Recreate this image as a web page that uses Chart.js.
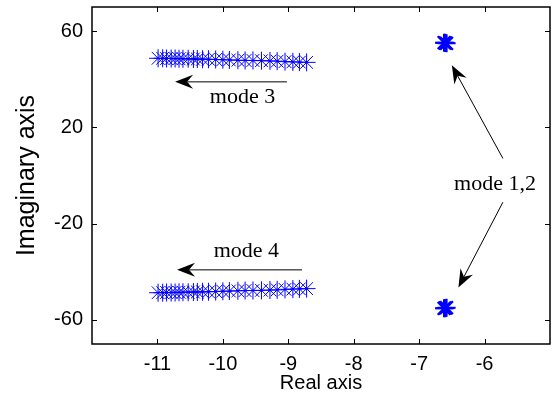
<!DOCTYPE html>
<html>
<head>
<meta charset="utf-8">
<script src="https://cdn.jsdelivr.net/npm/chart.js@4.4.1/dist/chart.umd.min.js"></script>
<style>
  html, body { margin: 0; padding: 0; background: #fff; }
  #wrap { width: 552px; height: 407px; }
</style>
</head>
<body>
<div id="wrap"><canvas id="rootLocus" width="552" height="407"></canvas></div>
<script>
// Eigenvalue trajectories (real / imaginary parts).
var realMode34 = [-10.99, -10.92, -10.86, -10.79, -10.73, -10.67, -10.61, -10.53, -10.45, -10.39,
                  -10.31, -10.22, -10.11, -10.00, -9.90, -9.77, -9.66, -9.54, -9.41, -9.28,
                  -9.17, -9.05, -8.93, -8.83, -8.72];
var imagMode3  = [48.7, 48.7, 48.6, 48.6, 48.6, 48.5, 48.5, 48.5, 48.4, 48.4,
                  48.3, 48.3, 48.2, 48.1, 48.0, 47.9, 47.8, 47.8, 47.7, 47.6,
                  47.5, 47.3, 47.2, 47.1, 47.0];
var imagMode4  = [-48.7, -48.7, -48.6, -48.6, -48.6, -48.5, -48.5, -48.5, -48.4, -48.4,
                  -48.3, -48.3, -48.2, -48.1, -48.0, -47.9, -47.8, -47.8, -47.7, -47.6,
                  -47.5, -47.3, -47.2, -47.1, -47.0];
var realMode12 = [-6.62, -6.60, -6.58, -6.60];
var imagMode1  = [55.2, 55.0, 54.9, 55.1];
var imagMode2  = [-55.2, -55.0, -54.9, -55.1];

var xTicks = [-11, -10, -9, -8, -7, -6];
var yTicks = [60, 20, -20, -60];

// annotations in data units: text labels and arrows (from -> tip)
var labels = [
    { text: 'mode 3', x: -9.70, y: 32.5 },
    { text: 'mode 4', x: -9.64, y: -31.3 },
    { text: 'mode 1,2', x: -5.84, y: -3.8 }
];
var arrows = [
    { x0: -9.02, y0: 38.9, x1: -10.73, y1: 38.9 },
    { x0: -8.79, y0: -39.2, x1: -10.70, y1: -39.2 },
    { x0: -5.72, y0: 7.1, x1: -6.50, y1: 45.8 },
    { x0: -5.72, y0: -11.1, x1: -6.40, y1: -46.5 }
];

function pts(xs, ys) {
    return xs.map(function (x, i) { return { x: x, y: ys[i] }; });
}

var BLUE = '#0000ff';
var SANS = '"Liberation Sans", Arial, sans-serif';

function starSet(data, width) {
    return {
        data: data,
        showLine: false,
        pointStyle: 'star',
        pointRadius: 9,
        pointBorderWidth: width,
        pointBorderColor: BLUE,
        pointBackgroundColor: BLUE
    };
}

// MATLAB-like box with inward ticks plus the text/arrow annotations
var boxPlugin = {
    id: 'matlabBox',
    afterDatasetsDraw: function (chart) {
        var c = chart.ctx, a = chart.chartArea;
        var xs = chart.scales.x, ys = chart.scales.y;
        var t = 5;
        c.save();
        c.strokeStyle = '#000';
        c.lineWidth = 1;
        c.beginPath();
        xTicks.forEach(function (v) {
            var px = Math.round(xs.getPixelForValue(v)) + 0.5;
            c.moveTo(px, a.bottom); c.lineTo(px, a.bottom - t);
            c.moveTo(px, a.top); c.lineTo(px, a.top + t);
        });
        yTicks.forEach(function (v) {
            var py = Math.round(ys.getPixelForValue(v)) + 0.5;
            c.moveTo(a.left, py); c.lineTo(a.left + t, py);
            c.moveTo(a.right, py); c.lineTo(a.right - t, py);
        });
        c.stroke();
        c.lineWidth = 1.5;
        c.strokeRect(a.left, a.top, a.right - a.left, a.bottom - a.top);

        // arrows
        c.lineWidth = 1;
        arrows.forEach(function (ar) {
            var x0 = xs.getPixelForValue(ar.x0), y0 = ys.getPixelForValue(ar.y0);
            var x1 = xs.getPixelForValue(ar.x1), y1 = ys.getPixelForValue(ar.y1);
            var ang = Math.atan2(y1 - y0, x1 - x0);
            var len = 18, half = 7, notch = 12;
            c.beginPath();
            c.moveTo(x0, y0);
            c.lineTo(x1 - Math.cos(ang) * notch, y1 - Math.sin(ang) * notch);
            c.stroke();
            c.save();
            c.translate(x1, y1);
            c.rotate(ang);
            c.beginPath();
            c.moveTo(0, 0);
            c.lineTo(-len, -half);
            c.lineTo(-notch, 0);
            c.lineTo(-len, half);
            c.closePath();
            c.fillStyle = '#000';
            c.fill();
            c.restore();
        });

        c.fillStyle = '#000';
        c.font = '22px "Liberation Serif", "Times New Roman", serif';
        c.textAlign = 'center';
        c.textBaseline = 'middle';
        labels.forEach(function (l) {
            c.fillText(l.text, xs.getPixelForValue(l.x), ys.getPixelForValue(l.y));
        });
        c.restore();
    }
};

var el = document.getElementById('rootLocus');
new Chart(el, {
    type: 'scatter',
    data: {
        datasets: [
            starSet(pts(realMode34, imagMode3), 1),
            starSet(pts(realMode34, imagMode4), 1),
            starSet(pts(realMode12, imagMode1), 2),
            starSet(pts(realMode12, imagMode2), 2)
        ]
    },
    options: {
        responsive: false,
        animation: false,
        events: [],
        layout: { autoPadding: false, padding: { top: 7, right: 2, left: 0, bottom: 0 } },
        plugins: { legend: { display: false }, tooltip: { enabled: false } },
        scales: {
            x: {
                type: 'linear',
                min: -12, max: -5,
                afterBuildTicks: function (s) { s.ticks = xTicks.map(function (v) { return { value: v }; }); },
                afterFit: function (s) { s.height = 63; s.paddingLeft = 0; s.paddingRight = 0; },
                grid: { display: false, drawTicks: false },
                border: { display: false },
                ticks: { color: '#000', padding: 8, font: { family: SANS, size: 20 } },
                title: { display: true, text: 'Real axis', color: '#000', padding: { top: 0, bottom: 12 },
                         font: { family: SANS, size: 20 } }
            },
            y: {
                type: 'linear',
                min: -70, max: 70,
                afterBuildTicks: function (s) { s.ticks = yTicks.map(function (v) { return { value: v }; }); },
                afterFit: function (s) { s.width = 92; s.paddingTop = 0; s.paddingBottom = 0; },
                grid: { display: false, drawTicks: false },
                border: { display: false },
                ticks: { color: '#000', padding: 9, font: { family: SANS, size: 20 } },
                title: { display: true, text: 'Imaginary axis', color: '#000', padding: { top: 12, bottom: 0 },
                         font: { family: SANS, size: 25 } }
            }
        }
    },
    plugins: [boxPlugin]
});
</script>
</body>
</html>
